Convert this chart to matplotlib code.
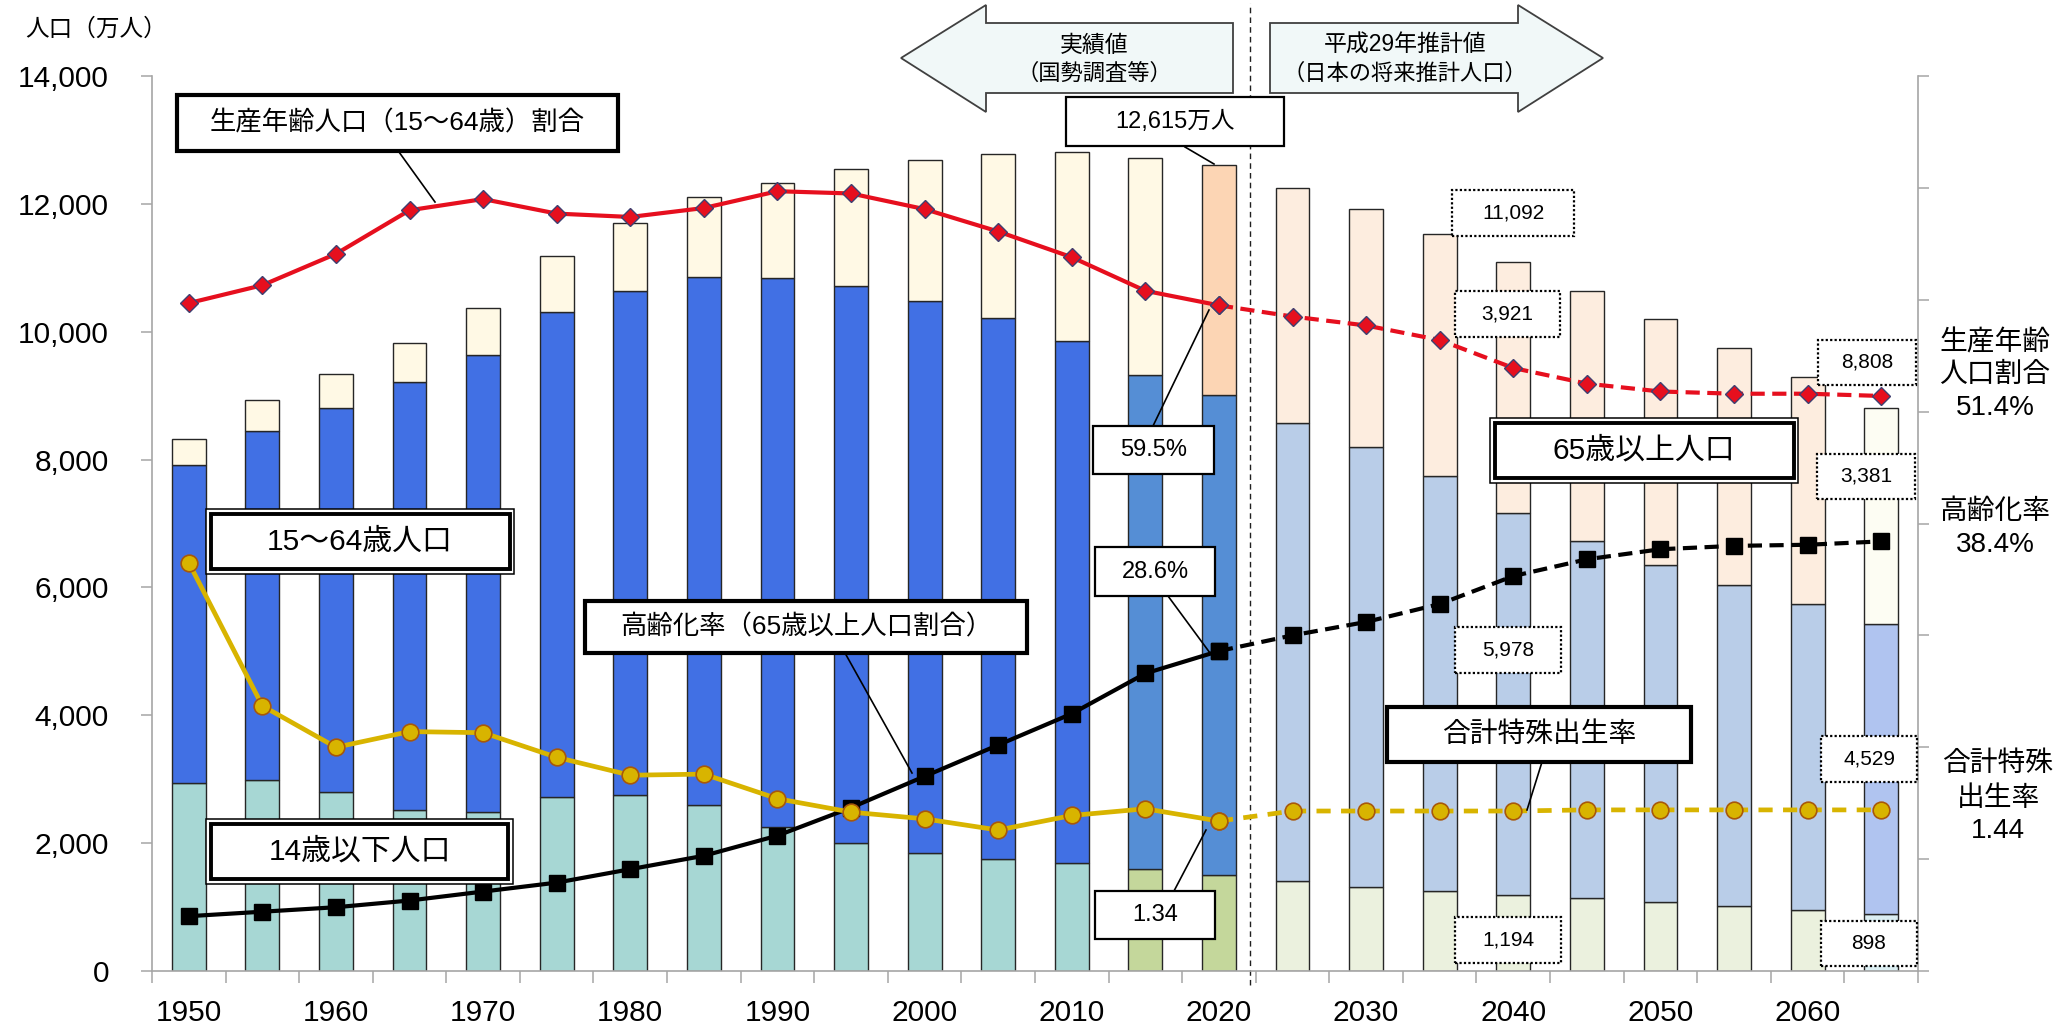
import matplotlib
matplotlib.use('Agg')
import matplotlib.pyplot as plt
from matplotlib.patches import Rectangle, Polygon
from matplotlib.lines import Line2D
from matplotlib.ticker import FuncFormatter
import numpy as np

plt.rcParams['font.family'] = ['Liberation Sans', 'Noto Sans CJK JP', 'DejaVu Sans']

# ---------------- data ----------------
years = [1950, 1955, 1960, 1965, 1970, 1975, 1980, 1985, 1990, 1995, 2000, 2005,
         2010, 2015, 2020, 2025, 2030, 2035, 2040, 2045, 2050, 2055, 2060, 2065]
pop_0_14 = [2943, 2980, 2807, 2517, 2482, 2722, 2751, 2603, 2249, 2001, 1847, 1752,
            1684, 1595, 1503, 1407, 1321, 1246, 1194, 1138, 1077, 1012, 951, 898]
pop_15_64 = [4966, 5473, 6000, 6693, 7157, 7581, 7883, 8251, 8590, 8716, 8638, 8458,
             8173, 7728, 7509, 7170, 6875, 6494, 5978, 5584, 5275, 5028, 4793, 4529]
pop_65 = [411, 475, 535, 618, 733, 887, 1065, 1247, 1493, 1826, 2204, 2567,
          2948, 3387, 3603, 3677, 3716, 3782, 3921, 3919, 3841, 3704, 3540, 3381]
ratio_15_64 = [59.7, 61.3, 64.1, 68.0, 69.0, 67.7, 67.4, 68.2, 69.7, 69.5, 68.1, 66.1,
               63.8, 60.8, 59.5, 58.5, 57.7, 56.4, 53.9, 52.5, 51.8, 51.6, 51.6, 51.4]
aging_rate = [4.9, 5.3, 5.7, 6.3, 7.1, 7.9, 9.1, 10.3, 12.1, 14.6, 17.4, 20.2,
              23.0, 26.6, 28.6, 30.0, 31.2, 32.8, 35.3, 36.8, 37.7, 38.0, 38.1, 38.4]
tfr = [3.65, 2.37, 2.00, 2.14, 2.13, 1.91, 1.75, 1.76, 1.54, 1.42, 1.36, 1.26,
       1.39, 1.45, 1.34, 1.43, 1.43, 1.43, 1.43, 1.44, 1.44, 1.44, 1.44, 1.44]
last_actual = 14  # index of 2020
x_labels = [1950, 1960, 1970, 1980, 1990, 2000, 2010, 2020, 2030, 2040, 2050, 2060]

# ---------------- styles ----------------
c14 = ['#a7d7d4'] * 13 + ['#c4d79b'] * 2 + ['#ebf1de'] * 8 + ['#dbeef2']
c1564 = ['#4170e4'] * 13 + ['#558ed5'] * 2 + ['#b9cde8'] * 8 + ['#b0c4f0']
c65 = ['#fff9e5'] * 14 + ['#fcd5b4'] + ['#fdeddf'] * 8 + ['#fdfdf3']

W, H = 2059, 1034
fig = plt.figure(figsize=(W / 100, H / 100), dpi=100)
L, R, T, B = 152, 1918, 76, 971
ax = fig.add_axes([L / W, 1 - B / H, (R - L) / W, (B - T) / H])
GRAY = '#a6a6a6'

bw = 2.3
b1 = np.array(pop_0_14)
b2 = b1 + np.array(pop_15_64)
ax.bar(years, pop_0_14, width=bw, color=c14, edgecolor='#262626', linewidth=1.0, zorder=2)
ax.bar(years, pop_15_64, bottom=b1, width=bw, color=c1564, edgecolor='#262626', linewidth=1.0, zorder=2)
ax.bar(years, pop_65, bottom=b2, width=bw, color=c65, edgecolor='#262626', linewidth=1.0, zorder=2)

ax.set_xlim(1947.5, 2067.5)
ax.set_ylim(0, 14000)
ax.set_yticks(range(0, 14001, 2000))
ax.yaxis.set_major_formatter(FuncFormatter(lambda v, p: f'{int(v):,}'))
ax.set_xticks(x_labels)
ax.set_xticks(np.arange(1947.5, 2068, 5), minor=True)
ax.tick_params(axis='x', which='major', length=0, pad=20, labelsize=21.5)
ax.tick_params(axis='x', which='minor', length=8.6, width=1.1, color=GRAY)
ax.tick_params(axis='y', length=8, width=1.1, color=GRAY, pad=23, labelsize=21.5)
for s in ['top', 'right']:
    ax.spines[s].set_visible(False)
for s in ['left', 'bottom']:
    ax.spines[s].set_color(GRAY)
    ax.spines[s].set_linewidth(1.2)

# vertical dashed separator
ax.axvline(2022.1, ymin=-0.016, ymax=1.082, clip_on=False, color='#202020',
           lw=1.0, linestyle=(0, (4, 3)), zorder=1)

# right axis (percent)
ax2 = ax.twinx()
ax2.set_ylim(0, 80)
ax2.set_yticks(range(0, 81, 10))
ax2.set_yticklabels([])
ax2.tick_params(axis='y', length=8, width=1.1, color=GRAY)
for s in ['top', 'left', 'bottom']:
    ax2.spines[s].set_visible(False)
ax2.spines['right'].set_color(GRAY)
ax2.spines['right'].set_linewidth(1.2)

ax3 = ax.twinx()
ax3.set_ylim(0, 8)
ax3.axis('off')

ya = years[:last_actual + 1]
yp = years[last_actual:]
# working-age ratio
red = '#e60f1e'
dkw = dict(marker='D', ms=9.5, mfc=red, mec='#3f3f70', mew=1.0)
ax2.plot(ya, ratio_15_64[:last_actual + 1], color=red, lw=3, zorder=5, **dkw)
ax2.plot(yp, ratio_15_64[last_actual:], color=red, lw=3, linestyle=(0, (3.4, 1.8)), zorder=5, **dkw)
# aging rate
skw = dict(marker='s', ms=12, mfc='black', mec='black')
ax2.plot(ya, aging_rate[:last_actual + 1], color='black', lw=3, zorder=5, **skw)
ax2.plot(yp, aging_rate[last_actual:], color='black', lw=3, linestyle=(0, (3.4, 1.8)), zorder=5, **skw)
# fertility rate
yel = '#d8b400'
ckw = dict(marker='o', ms=12, mfc=yel, mec='#a8580a', mew=1.2)
ax3.plot(ya, tfr[:last_actual + 1], color=yel, lw=3.4, zorder=5, **ckw)
ax3.plot(yp, tfr[last_actual:], color=yel, lw=3.4, linestyle=(0, (3, 2.2)), zorder=5, **ckw)

# ---------------- annotations (figure pixel coords) ----------------
def fx(x):
    return x / W

def fy(y):
    return 1 - y / H

def rect(x0, y0, x1, y1, lw=1.5, ls='-', z=10):
    fig.add_artist(Rectangle((fx(x0), fy(y1)), (x1 - x0) / W, (y1 - y0) / H,
                             transform=fig.transFigure, facecolor='white',
                             edgecolor='black', lw=lw, linestyle=ls, zorder=z))

def txt(x, y, s, size, ha='center', z=12, **kw):
    fig.text(fx(x), fy(y), s, fontsize=size, ha=ha, va='center', zorder=z, **kw)

def leader(x0, y0, x1, y1):
    fig.add_artist(Line2D([fx(x0), fx(x1)], [fy(y0), fy(y1)], transform=fig.transFigure,
                          color='black', lw=1.2, zorder=9))

def dbl(x0, y0, x1, y1):
    rect(x0, y0, x1, y1, lw=1.1)
    rect(x0 + 4.5, y0 + 5, x1 - 4.5, y1 - 5, lw=2.8, z=11)

# arrows
arrow_fc = '#f1f8f8'
fig.add_artist(Polygon([(fx(901), fy(58)), (fx(986), fy(5)), (fx(986), fy(23)), (fx(1233), fy(23)),
                        (fx(1233), fy(93)), (fx(986), fy(93)), (fx(986), fy(112))],
                       closed=True, transform=fig.transFigure, facecolor=arrow_fc,
                       edgecolor='#404040', lw=1.3, zorder=8))
fig.add_artist(Polygon([(fx(1603), fy(58)), (fx(1518), fy(5)), (fx(1518), fy(23)), (fx(1270), fy(23)),
                        (fx(1270), fy(93)), (fx(1518), fy(93)), (fx(1518), fy(112))],
                       closed=True, transform=fig.transFigure, facecolor=arrow_fc,
                       edgecolor='#404040', lw=1.3, zorder=8))
txt(1094, 45, '実績値', 16.5)
txt(1094, 74, '（国勢調査等）', 16)
txt(1405, 45, '平成29年推計値', 16.5)
txt(1405, 74, '（日本の将来推計人口）', 16)

# axis title
txt(25, 30, '人口（万人）', 17, ha='left')

# big label boxes
rect(177, 95, 618, 151, lw=3)
txt(397, 123, '生産年齢人口（15～64歳）割合', 19)
leader(399, 152, 435, 202)

rect(585, 601, 1027, 653, lw=3)
txt(806, 627, '高齢化率（65歳以上人口割合）', 19)
leader(845, 653, 912, 773)

rect(1387, 707, 1691, 762, lw=3)
txt(1539, 735, '合計特殊出生率', 20)
leader(1542, 762, 1527, 810)

dbl(206, 509, 514, 574)
txt(360, 542, '15～64歳人口', 21.5)
dbl(206, 819, 513, 884)
txt(360, 852, '14歳以下人口', 21.5)
dbl(1490, 418, 1798, 483)
txt(1644, 451, '65歳以上人口', 21.5)

# value boxes
rect(1066, 97, 1284, 146, lw=1.6)
txt(1175, 122, f'{b2[last_actual] + pop_65[last_actual]:,}万人', 17)
leader(1185, 147, 1214, 164)

rect(1093, 426, 1214, 474, lw=1.6)
txt(1154, 450, f'{ratio_15_64[last_actual]}%', 17)
leader(1153, 426, 1209, 310)

rect(1095, 547, 1215, 596, lw=1.6)
txt(1155, 572, f'{aging_rate[last_actual]}%', 17)
leader(1168, 596, 1210, 653)

rect(1095, 891, 1215, 939, lw=1.6)
txt(1155, 915, f'{tfr[last_actual]:.2f}', 17)
leader(1174, 891, 1206, 830)

# dotted value boxes
i40 = years.index(2040)
i65 = years.index(2065)
dotted = [
    (1452, 190, 1574, 236, f'{b2[i40] + pop_65[i40] - 1:,}'),
    (1455, 291, 1560, 337, f'{pop_65[i40]:,}'),
    (1455, 627, 1561, 673, f'{pop_15_64[i40]:,}'),
    (1455, 917, 1561, 963, f'{pop_0_14[i40]:,}'),
    (1818, 340, 1916, 385, f'{b2[i65] + pop_65[i65]:,}'),
    (1817, 454, 1915, 499, f'{pop_65[i65]:,}'),
    (1821, 736, 1917, 782, f'{pop_15_64[i65]:,}'),
    (1821, 921, 1917, 966, f'{pop_0_14[i65]:,}'),
]
for x0, y0, x1, y1, s in dotted:
    rect(x0, y0, x1, y1, lw=1.6, ls=(0, (1, 1)))
    txt((x0 + x1) / 2, (y0 + y1) / 2, s, 15)

# right-side labels
txt(1995, 343, '生産年齢', 20)
txt(1995, 375, '人口割合', 20)
txt(1995, 408, f'{ratio_15_64[-1]}%', 20)
txt(1995, 512, '高齢化率', 20)
txt(1995, 545, f'{aging_rate[-1]}%', 20)
txt(1998, 764, '合計特殊', 20)
txt(1998, 799, '出生率', 20)
txt(1998, 831, f'{tfr[-1]:.2f}', 20)

fig.savefig('out.png', dpi=100)
